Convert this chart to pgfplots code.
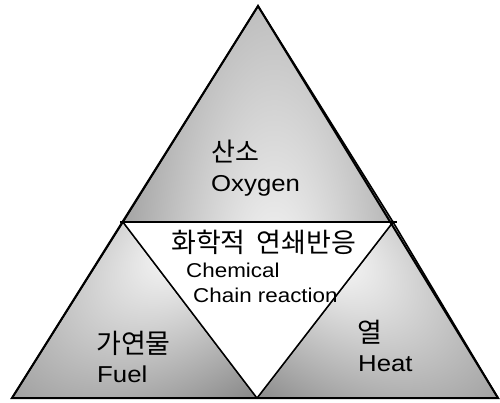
\documentclass[border=0pt]{standalone}
\usepackage{pgfplots}
\pgfplotsset{compat=1.18}
\usepackage{fontspec}
\setmainfont{Liberation Sans}[FakeStretch=1.12]
\newfontfamily\kr{Noto Sans CJK KR}
% top triangle: light stripe centred a little right of the middle, brightest at the inner edge
\pgfdeclarefunctionalshading{topsh}{\pgfpoint{-50bp}{-50bp}}{\pgfpoint{50bp}{50bp}}{}{%
0.0054 mul 0.27 add dup mul exch 0.02 mul 0.059 sub dup mul add sqrt 0.62 mul 1 exch sub dup 0.35 lt {pop 0.35} if dup dup}
% left triangle
\pgfdeclarefunctionalshading{leftsh}{\pgfpoint{-50bp}{-50bp}}{\pgfpoint{50bp}{50bp}}{}{%
2 copy 0.012736 mul exch 0.0135 mul exch sub 0.09627 add dup mul 3 1 roll 0.005335 mul exch 0.00975 mul add neg 0.2195 add dup mul add sqrt 0.62 mul 1 exch sub dup 0.35 lt {pop 0.35} if dup dup}
% right triangle
\pgfdeclarefunctionalshading{rightsh}{\pgfpoint{-50bp}{-50bp}}{\pgfpoint{50bp}{50bp}}{}{%
2 copy 0.012691 mul exch 0.013464 mul add neg 0.07218 add dup mul 3 1 roll 0.005385 mul exch 0.009595 mul exch sub 0.2109 add dup mul add sqrt 0.62 mul 1 exch sub dup 0.35 lt {pop 0.35} if dup dup}
\begin{document}
\begin{tikzpicture}
\begin{axis}[
  scale only axis, width=500pt, height=402pt,
  xmin=0, xmax=500, ymin=0, ymax=402,
  axis lines=none, clip=false,
]
\addplot[draw=none, mark=none] coordinates {(0,0) (500,402)};
% three shaded triangles
\addplot[mark=none, shading=topsh, draw=black, line width=1.6pt] coordinates {(258,396) (123,180) (393,180)} -- cycle;
\addplot[mark=none, shading=leftsh, draw=black, line width=1.6pt] coordinates {(123,180) (12,4) (257,4)} -- cycle;
\addplot[mark=none, shading=rightsh, draw=black, line width=1.6pt] coordinates {(393,180) (257,4) (498,4)} -- cycle;
% inner white triangle
\addplot[mark=none, fill=white, draw=black, line width=1.4pt] coordinates {(123,180) (393,180) (257,4)} -- cycle;
% middle bar
\addplot[mark=none, draw=black, line width=2.8pt] coordinates {(120,180) (397,180)};
% outline
\addplot[mark=none, draw=black, line width=2pt] coordinates {(258,396) (12,4) (498,4)} -- cycle;
% labels
\node[anchor=west, inner sep=0pt] at (axis cs:211,250) {\kr\fontsize{26}{29}\selectfont 산소};
\node[anchor=base west, inner sep=0pt] at (axis cs:211,211) {\fontsize{23}{26}\selectfont Oxygen};
\node[anchor=west, inner sep=0pt] at (axis cs:171,160) {\kr\fontsize{27}{30}\selectfont 화학적\hspace{0.4em}연쇄반응};
\node[anchor=base west, inner sep=0pt] at (axis cs:186,125) {\fontsize{20}{24}\selectfont Chemical};
\node[anchor=base west, inner sep=0pt] at (axis cs:193,100) {\fontsize{20}{24}\selectfont Chain reaction};
\node[anchor=west, inner sep=0pt] at (axis cs:96,59) {\kr\fontsize{27}{30}\selectfont 가연물};
\node[anchor=base west, inner sep=0pt] at (axis cs:97,20) {\fontsize{23}{26}\selectfont Fuel};
\node[anchor=west, inner sep=0pt] at (axis cs:357,70) {\kr\fontsize{27}{30}\selectfont 열};
\node[anchor=base west, inner sep=0pt] at (axis cs:358,31) {\fontsize{23}{26}\selectfont Heat};
\end{axis}
\end{tikzpicture}
\end{document}
